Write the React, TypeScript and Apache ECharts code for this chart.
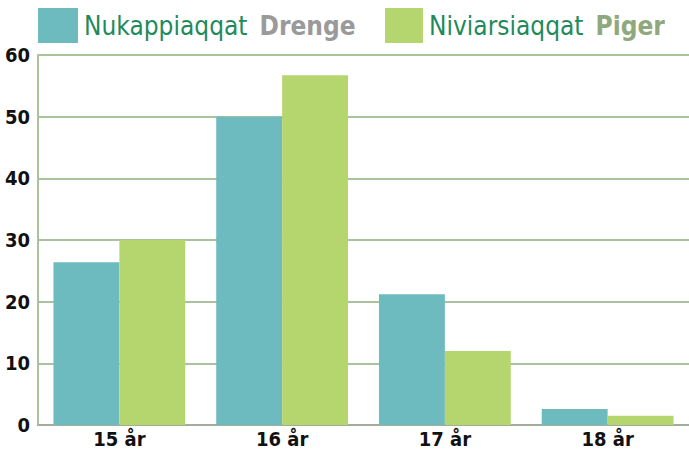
import React, { useEffect, useRef } from "react";
import * as echarts from "echarts";

const categories = ["15 år", "16 år", "17 år", "18 år"];
const drenge = [26.4, 50, 21.2, 2.6];
const piger = [30, 56.7, 12, 1.5];
const yTicks = { min: 0, max: 60, interval: 10 };

const FONT = "'DejaVu Sans Condensed', 'Liberation Sans Narrow', sans-serif";

export default function App() {
  const ref = useRef<HTMLDivElement>(null);
  useEffect(() => {
    const chart = echarts.init(ref.current!, undefined, { renderer: "svg" });
    const richText = {
      a: { fontFamily: FONT, fontSize: 26, color: "#1f8a5c", fontWeight: "normal" },
      b: { fontFamily: FONT, fontSize: 26, color: "#9a9a9a", fontWeight: "bold", padding: [0, 0, 0, 12] },
      c: { fontFamily: FONT, fontSize: 26, color: "#8fa87e", fontWeight: "bold", padding: [0, 0, 0, 12] },
    };
    chart.setOption({
      animation: false,
      textStyle: { fontFamily: FONT },
      legend: [
        {
          data: ["Drenge"],
          left: 38,
          top: 8,
          icon: "rect",
          itemWidth: 40,
          itemHeight: 35,
          padding: 0,
          formatter: () => "{a|Nukappiaqqat}{b|Drenge}",
          textStyle: { rich: richText, padding: [0, 0, 0, 1] },
          selectedMode: false,
        },
        {
          data: ["Piger"],
          left: 385,
          top: 8,
          icon: "rect",
          itemWidth: 38,
          itemHeight: 35,
          padding: 0,
          formatter: () => "{a|Niviarsiaqqat}{c|Piger}",
          textStyle: { rich: richText, padding: [0, 0, 0, 1] },
          selectedMode: false,
        },
      ],
      grid: { left: 38, right: -6, top: 55, bottom: 27, containLabel: false },
      xAxis: {
        type: "category",
        data: categories,
        axisLine: { show: true, lineStyle: { color: "#a3ad9b", width: 2 } },
        axisTick: { show: false },
        axisLabel: {
          color: "#111",
          fontFamily: FONT,
          fontWeight: "bold",
          fontSize: 20,
          lineHeight: 20,
          margin: 4,
        },
      },
      yAxis: {
        type: "value",
        min: yTicks.min,
        max: yTicks.max,
        interval: yTicks.interval,
        axisLine: { show: true, lineStyle: { color: "#a9c49c", width: 2 } },
        axisTick: { show: false },
        splitLine: { show: true, lineStyle: { color: "#a9c49c", width: 2 } },
        axisLabel: {
          color: "#111",
          fontFamily: FONT,
          fontWeight: "bold",
          fontSize: 20,
          margin: 8,
        },
      },
      series: [
        {
          name: "Drenge",
          type: "bar",
          data: drenge,
          barGap: "0%",
          barCategoryGap: "19%",
          itemStyle: { color: "#6dbbbf" },
        },
        {
          name: "Piger",
          type: "bar",
          data: piger,
          barGap: "0%",
          barCategoryGap: "19%",
          itemStyle: { color: "#b5d66f" },
        },
      ],
    });
    return () => chart.dispose();
  }, []);
  return <div ref={ref} style={{ width: 689, height: 452, position: "absolute", left: 0, top: 0 }} />;
}
